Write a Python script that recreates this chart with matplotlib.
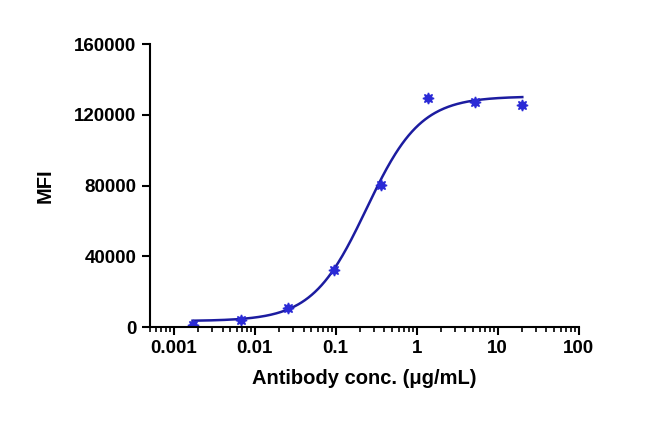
import numpy as np
import matplotlib.pyplot as plt

plt.rcParams['font.family'] = ['Liberation Sans', 'DejaVu Sans']
plt.rcParams['font.weight'] = 'bold'

conc = [0.0017, 0.0067, 0.0256, 0.095, 0.363, 1.39, 5.3, 20.2]
mfi = [1500, 4000, 11000, 32500, 80500, 129500, 127500, 125500]

# 4PL fit parameters (bottom, top, EC50, hill)
fit_bottom, fit_top, fit_ec50, fit_hill = 3500, 130500, 0.24, 1.3

fig = plt.figure(figsize=(6.5, 4.25), dpi=100)
ax = fig.add_axes([0.23, 0.23, 0.66, 0.666])

xs = np.logspace(np.log10(conc[0]), np.log10(conc[-1]), 300)
ys = fit_bottom + (fit_top - fit_bottom) / (1 + (fit_ec50 / xs) ** fit_hill)
ax.plot(xs, ys, color='#1c1ca0', lw=1.8)
ax.plot(conc, mfi, ls='none', marker=(8, 1, 0), ms=8, color='#2a2ad6')

ax.set_xscale('log')
ax.set_xlim(0.0005, 100)
ax.set_ylim(0, 160000)
ax.set_xticks([0.001, 0.01, 0.1, 1, 10, 100])
ax.set_xticklabels(['0.001', '0.01', '0.1', '1', '10', '100'])
ax.set_yticks([0, 40000, 80000, 120000, 160000])
ax.set_yticklabels(['0', '40000', '80000', '120000', '160000'])
ax.minorticks_on()
ax.yaxis.set_minor_locator(plt.NullLocator())
for s in ['top', 'right']:
    ax.spines[s].set_visible(False)
for s in ['left', 'bottom']:
    ax.spines[s].set_linewidth(1.5)
ax.tick_params(width=1.5, length=6, labelsize=13.5)
ax.tick_params(which='minor', width=1.2, length=3.5)
ax.set_xlabel('Antibody conc. (μg/mL)', fontsize=14.5, fontweight='bold', labelpad=8)
ax.set_ylabel('MFI', fontsize=14.5, fontweight='bold', labelpad=14)

fig.savefig('out.png', dpi=100)
